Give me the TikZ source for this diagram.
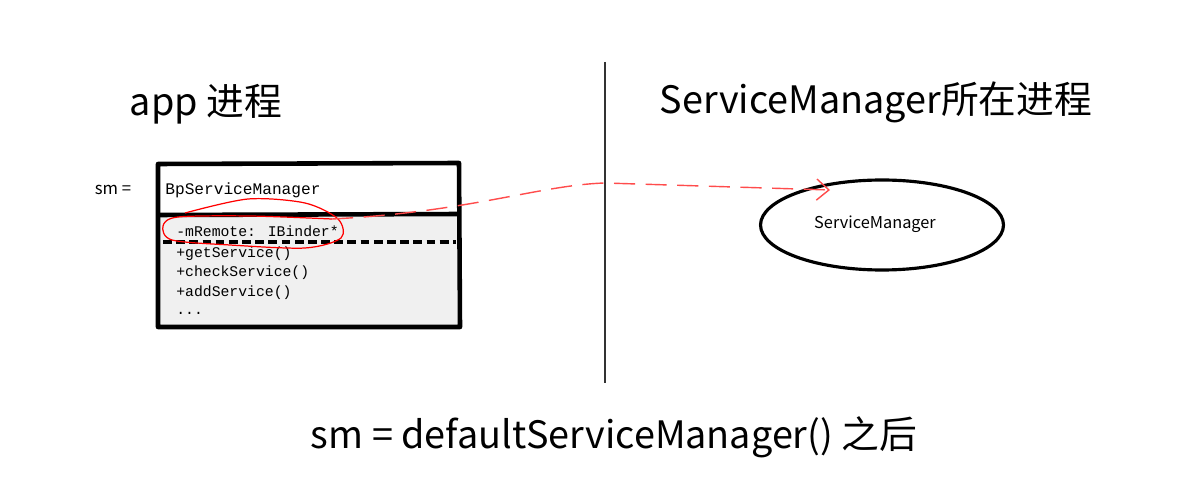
\documentclass[tikz,border=0pt]{standalone}
\usepackage{fontspec}
\setmainfont{Noto Sans CJK SC}
\newfontfamily\boxfont{Liberation Mono}
\usetikzlibrary{arrows.meta,positioning,shapes.geometric}

\tikzset{
	member/.style={anchor=west, font=\boxfont\fontsize{8.4}{9}\selectfont, inner sep=0pt},
	title/.style={font=\fontsize{21.5}{24}\selectfont, inner sep=0pt},
	sketch/.style={line width=2.6pt, line join=round}
}

\begin{document}
\begin{tikzpicture}[x=0.02cm, y=-0.02cm]
	
	\useasboundingbox (0,0) rectangle (1195,499);
	
	\node[title] (app) at (206,104) {app 进程};
	\node[title] (smproc) at (876,102) {ServiceManager所在进程};
	\node[title] (after) at (614,437) {sm = defaultServiceManager() 之后};
	
	\coordinate (top) at (605,62);
	\coordinate (bot) at (605,383);
	\draw[line width=0.8pt, black!80](top) -- (bot);
	
	% class box
	\fill[black!6] (159,216) rectangle (458,326);
	\draw[sketch] (158,164) -- (459,163) -- (460,327) -- (158,327) -- cycle;
	\draw[sketch] (158,215) -- (460,214);
	\draw[line width=2pt, dashed, dash pattern=on 5pt off 2.5pt] (163,242) -- (456,242);
	
	\node[inner sep=0pt, font=\fontsize{9.5}{10}\selectfont] (sm) at (113,190) {sm =};
	\node[member] (name) at (165,190) {\fontsize{9.2}{10}\selectfont BpServiceManager};
	\node[member] (remote) at (176,231) {-mRemote: IBinder*};
	\node[member] (get) at (176,254) {+getService()};
	\node[member] (check) at (176,273) {+checkService()};
	\node[member] (add) at (176,293) {+addService()};
	\node[member] (more) at (176,313) {...};
	
	\draw[red, line width=0.7pt] plot[smooth] coordinates {(185,213) (248,199) (305,203) (338,219) (341,238) (305,248) (230,245) (172,240) (163,226) (178,217) (250,216) (332,219)};
	\coordinate (start) at (332,219);
	
	\node[draw, ellipse, line width=1.8pt, minimum width=4.86cm, minimum height=1.8cm, inner sep=0pt] (sm node) at (882,225) {};
	\node[inner sep=0pt, font=\fontsize{9.3}{10}\selectfont] (sm text) at (875,224) {ServiceManager};
	
	\draw[red!70, line width=0.8pt, dash pattern=on 12pt off 6pt, -{Straight Barb[length=7pt, width=12pt]}] (start) .. controls (470,212) and (540,185) .. (605,183) -- (830,190);
	
	\end{tikzpicture}
\end{document}
